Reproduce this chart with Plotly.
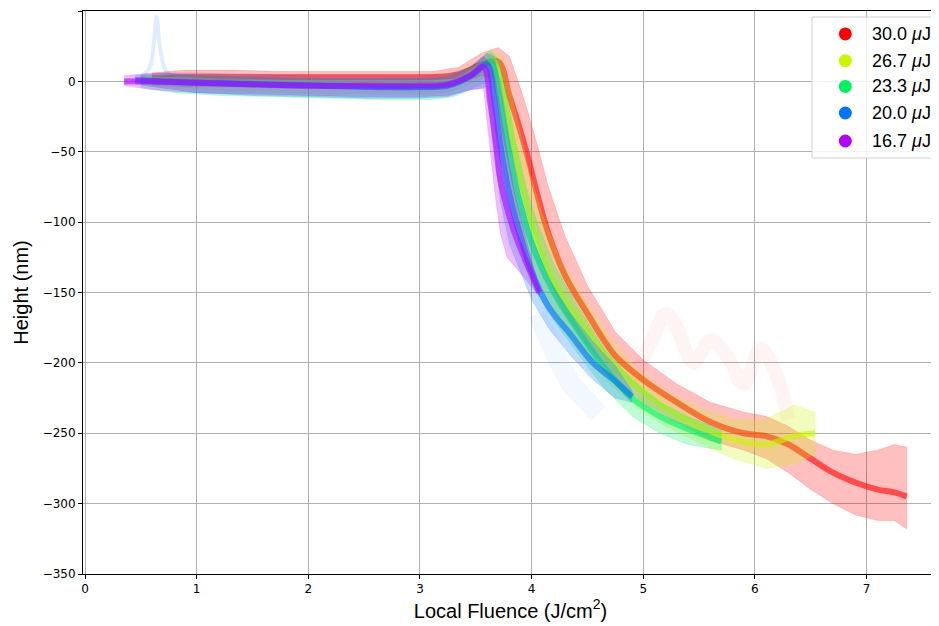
import plotly.graph_objects as go

# pulse energies (legend)
labels = ['30.0 <i>μ</i>J', '26.7 <i>μ</i>J', '23.3 <i>μ</i>J', '20.0 <i>μ</i>J', '16.7 <i>μ</i>J']
colors = ['#ff0000', '#ccf500', '#00f060', '#0073ff', '#b000ff']

# each energy: x, band centre, band top, band bottom
red_x = [0.6, 0.9, 1.3, 1.8, 2.3, 2.8, 3.1, 3.35, 3.55, 3.7, 3.8, 3.88, 3.96, 4.05, 4.15, 4.3, 4.5, 4.75, 5.0, 5.3, 5.6, 5.9, 6.1, 6.3, 6.5, 6.7, 6.9, 7.1, 7.25, 7.36]
red_mid = [2, 3, 3, 3, 3, 3, 3, 5, 12, 14, -10, -30, -52, -80, -108, -138, -165, -195, -212, -228, -242, -250, -252, -258, -268, -278, -285, -290, -292, -295]
red_hi = [6, 8, 8, 7, 7, 7, 7, 10, 20, 24, 18, 0, -20, -45, -75, -110, -145, -178, -198, -215, -228, -235, -238, -245, -255, -262, -265, -262, -258, -260]
red_lo = [-3, -4, -4, -5, -5, -5, -5, -2, 4, 2, -45, -70, -95, -115, -140, -165, -188, -212, -228, -242, -255, -262, -268, -278, -290, -300, -308, -312, -312, -318]

yel_x = [0.5, 0.8, 1.2, 1.7, 2.2, 2.7, 3.1, 3.3, 3.5, 3.65, 3.73, 3.8, 3.88, 3.98, 4.1, 4.25, 4.45, 4.7, 4.95, 5.2, 5.5, 5.8, 6.1, 6.35, 6.54]
yel_mid = [1, 1, 0, -1, -2, -2, -2, 0, 8, 15, -5, -32, -62, -95, -125, -150, -172, -198, -217, -232, -245, -254, -258, -252, -250]
yel_hi = [5, 6, 5, 4, 4, 4, 4, 6, 14, 22, 18, -2, -30, -65, -95, -125, -152, -182, -205, -220, -232, -240, -240, -230, -235]
yel_lo = [-3, -5, -7, -8, -9, -9, -9, -7, 0, 5, -35, -70, -100, -125, -150, -172, -192, -215, -232, -245, -257, -268, -275, -272, -265]

grn_x = [0.5, 0.8, 1.2, 1.7, 2.2, 2.7, 3.1, 3.3, 3.5, 3.63, 3.7, 3.77, 3.85, 3.95, 4.05, 4.2, 4.4, 4.65, 4.9, 5.15, 5.4, 5.7]
grn_mid = [0, 0, -1, -2, -3, -4, -4, -2, 6, 14, -8, -40, -72, -102, -125, -150, -175, -203, -225, -238, -247, -256]
grn_hi = [4, 5, 4, 3, 2, 2, 2, 4, 12, 22, 16, -5, -40, -75, -100, -130, -158, -190, -212, -228, -238, -248]
grn_lo = [-4, -8, -10, -11, -12, -13, -13, -11, -4, 0, -40, -75, -105, -130, -150, -170, -192, -218, -238, -250, -258, -262]

blu_x = [0.45, 0.7, 1.0, 1.5, 2.0, 2.5, 3.0, 3.25, 3.45, 3.6, 3.66, 3.72, 3.8, 3.9, 4.0, 4.15, 4.35, 4.55, 4.75, 4.9]
blu_mid = [1, 0, -1, -2, -3, -4, -4, -3, 4, 12, -10, -45, -80, -110, -135, -160, -180, -200, -213, -224]
blu_hi = [4, 6, 4, 3, 2, 2, 2, 3, 10, 20, 18, 0, -40, -80, -110, -140, -165, -185, -202, -220]
blu_lo = [-2, -5, -8, -10, -11, -12, -12, -11, -6, -4, -45, -85, -115, -135, -155, -175, -195, -212, -225, -228]

pur_x = [0.35, 0.6, 1.0, 1.5, 2.0, 2.5, 3.0, 3.25, 3.45, 3.57, 3.63, 3.68, 3.72, 3.78, 3.85, 3.95, 4.07]
pur_mid = [0, 0, -1, -2, -3, -3, -3, -2, 4, 10, -15, -45, -70, -90, -108, -128, -150]
pur_hi = [4, 6, 6, 5, 4, 4, 4, 5, 10, 18, 12, 0, -20, -50, -80, -112, -147]
pur_lo = [-3, -6, -8, -9, -10, -11, -11, -10, -6, -5, -50, -85, -108, -125, -132, -141, -153]

# faint stray traces
blue_spike_x = [0.5, 0.58, 0.62, 0.64, 0.67, 0.72, 0.8]
blue_spike_y = [3, 10, 30, 46, 25, 8, 3]
blue_stray_x = [4.05, 4.15, 4.25, 4.35, 4.45, 4.55, 4.6]
blue_stray_y = [-165, -185, -200, -215, -225, -232, -236]
red_stray_x = [4.9, 5.1, 5.2, 5.3, 5.45, 5.6, 5.75, 5.9, 6.05, 6.2, 6.3]
red_stray_y = [-215, -180, -165, -175, -200, -184, -195, -215, -190, -210, -240]

series = [
    (red_x, red_mid, red_hi, red_lo),
    (yel_x, yel_mid, yel_hi, yel_lo),
    (grn_x, grn_mid, grn_hi, grn_lo),
    (blu_x, blu_mid, blu_hi, blu_lo),
    (pur_x, pur_mid, pur_hi, pur_lo),
]


def rgba(hex_col, a):
    h = hex_col.lstrip('#')
    return 'rgba(%d,%d,%d,%s)' % (int(h[0:2], 16), int(h[2:4], 16), int(h[4:6], 16), a)


fig = go.Figure()

# faint strays underneath
fig.add_trace(go.Scatter(x=red_stray_x, y=red_stray_y, mode='lines', line=dict(color=rgba(colors[0], 0.045), width=14, shape='spline'), showlegend=False, hoverinfo='skip'))
fig.add_trace(go.Scatter(x=blue_spike_x, y=blue_spike_y, mode='lines', line=dict(color=rgba(colors[3], 0.13), width=4, shape='spline'), showlegend=False, hoverinfo='skip'))
fig.add_trace(go.Scatter(x=blue_stray_x, y=blue_stray_y, mode='lines', line=dict(color=rgba(colors[3], 0.05), width=20), showlegend=False, hoverinfo='skip'))

for (x, mid, hi, lo), col in zip(series, colors):
    fig.add_trace(go.Scatter(
        x=x + x[::-1], y=hi + lo[::-1], mode='lines', fill='toself',
        fillcolor=rgba(col, 0.25), line=dict(color=rgba(col, 0.15), width=1),
        showlegend=False, hoverinfo='skip'))
    fig.add_trace(go.Scatter(
        x=x, y=mid, mode='lines', line=dict(color=rgba(col, 0.6), width=6, shape='spline'),
        showlegend=False, hoverinfo='skip'))

# hand-drawn legend box so it stays inside the axes
leg_x0, leg_x1, leg_y0, leg_y1 = 0.8526, 0.9988, 0.7389, 0.9893
leg_rows = [0.9592, 0.9118, 0.8661, 0.8188, 0.7691]
shapes = [dict(type='rect', xref='paper', yref='paper', x0=leg_x0, x1=leg_x1, y0=leg_y0, y1=leg_y1,
               line=dict(color='#d0d0d0', width=1), fillcolor='rgba(255,255,255,0.85)', layer='above')]
annotations = []
for lab, col, yy in zip(labels, colors, leg_rows):
    shapes.append(dict(type='circle', xref='paper', yref='paper', xsizemode='pixel', ysizemode='pixel',
                       xanchor=0.8916, yanchor=yy, x0=-6.5, x1=6.5, y0=-6.5, y1=6.5,
                       fillcolor=col, line=dict(color=col, width=0), layer='above'))
    annotations.append(dict(text=lab, xref='paper', yref='paper', x=0.9205, y=yy,
                            xanchor='left', yanchor='middle', showarrow=False,
                            font=dict(family='Liberation Sans', size=18, color='black')))

# the page body adds 8px on the left and top, so the figure is 8px smaller
fig.update_layout(
    width=931, height=618,
    margin=dict(l=75, r=1, t=3, b=52, autoexpand=False),
    plot_bgcolor='white', paper_bgcolor='white',
    font=dict(family='DejaVu Sans', size=12, color='black'),
    showlegend=False,
    shapes=shapes, annotations=annotations,
    xaxis=dict(range=[-0.018, 7.64], tickvals=[0, 1, 2, 3, 4, 5, 6, 7],
               showgrid=True, gridcolor='#b0b0b0', gridwidth=1, zeroline=False,
               showline=True, linecolor='black', linewidth=1, mirror=True,
               ticks='outside', ticklen=4, tickcolor='black',
               title=dict(text='Local Fluence (J/cm<sup>2</sup>)',
                          font=dict(family='Liberation Sans', size=20), standoff=6)),
    yaxis=dict(range=[-350, 50], tickvals=[-350, -300, -250, -200, -150, -100, -50, 0, 50],
               showgrid=True, gridcolor='#b0b0b0', gridwidth=1, zeroline=False,
               showline=True, linecolor='black', linewidth=1,
               ticks='outside', ticklen=4, tickcolor='black',
               title=dict(text='Height (nm)', font=dict(family='Liberation Sans', size=20), standoff=8)),
)

fig.write_html("out.html")
